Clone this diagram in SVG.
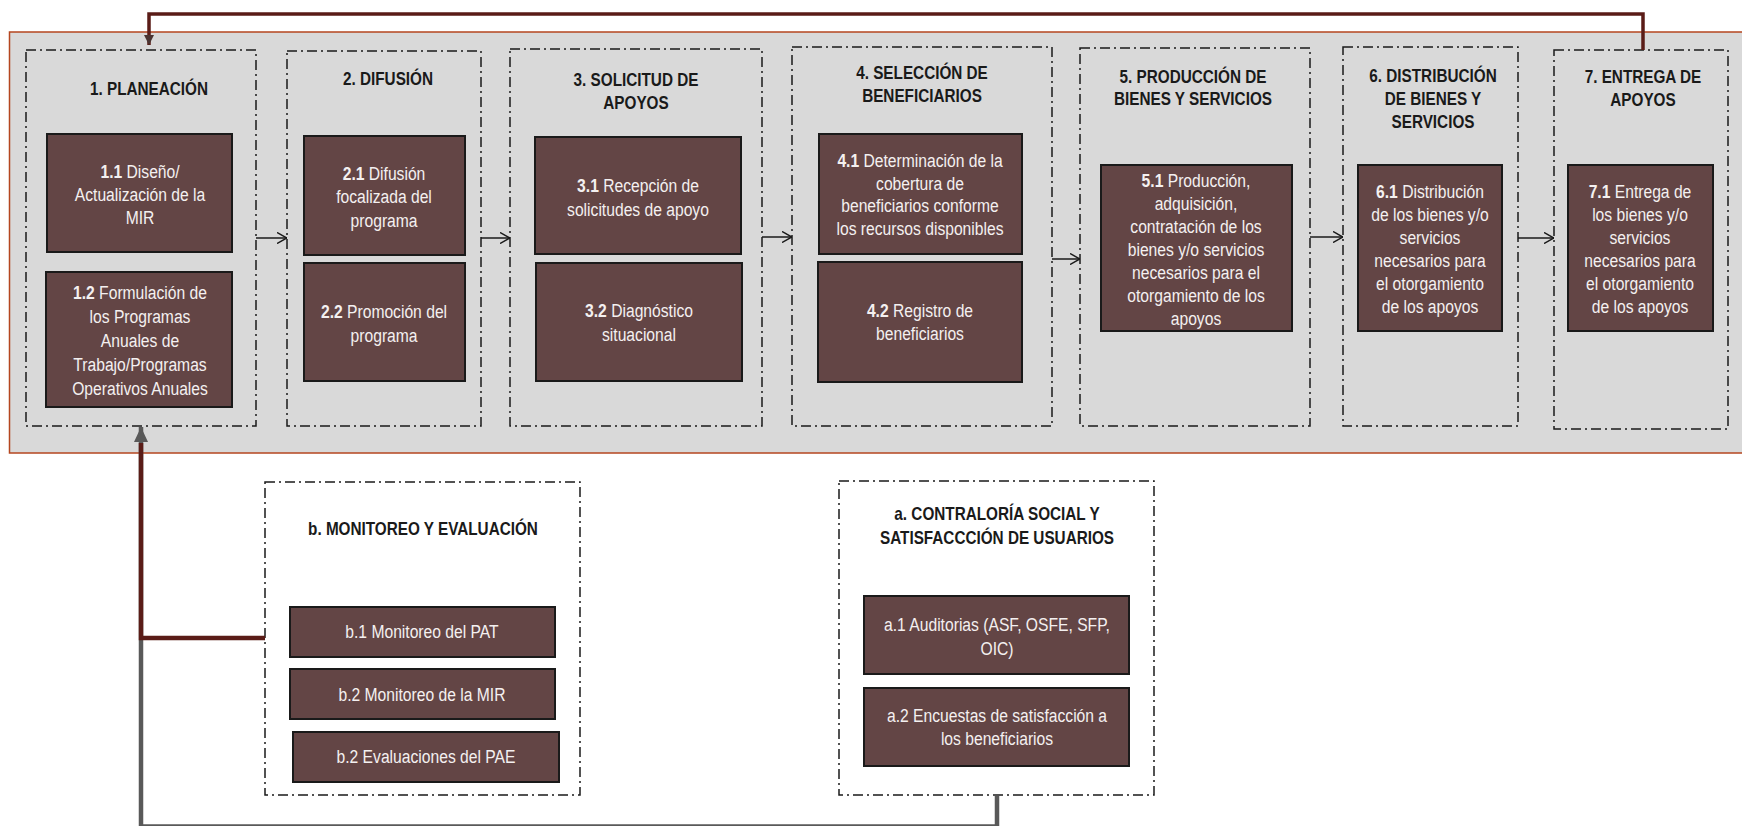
<svg xmlns="http://www.w3.org/2000/svg" width="1742" height="826" viewBox="0 0 1742 826">
<defs>
<style>
text{font-family:"Liberation Sans",Arial,sans-serif;font-size:18px;text-anchor:middle;transform-box:fill-box;transform-origin:center}
.title{font-weight:bold;fill:#1a1a1a;transform:scaleX(0.85)}
.body{fill:#f4f0f0;transform:scaleX(0.87)}
.body tspan.n{font-weight:bold}
.grp{fill:none;stroke:#1a1a1a;stroke-width:1.5;stroke-dasharray:10 4 2 4}
.box{fill:#634545;stroke:#1a1a1a;stroke-width:2}
.flow{stroke:#1a1a1a;stroke-width:1.5;fill:none;marker-end:url(#open)}
</style>
<marker id="open" viewBox="0 0 10 12" refX="10" refY="6" markerWidth="10" markerHeight="12" markerUnits="userSpaceOnUse" orient="auto"><path d="M0,0.5 L10,6 L0,11.5" fill="none" stroke="#1a1a1a" stroke-width="1.5"/></marker>
<marker id="triTop" viewBox="0 0 10 10" refX="10" refY="5" markerWidth="10" markerHeight="10" markerUnits="userSpaceOnUse" orient="auto"><path d="M0,0 L10,5 L0,10 Z" fill="#4a3432"/></marker>
<marker id="triBot" viewBox="0 0 15 14" refX="15" refY="7" markerWidth="15" markerHeight="14" markerUnits="userSpaceOnUse" orient="auto"><path d="M0,0 L15,7 L0,14 Z" fill="#595959"/></marker>
</defs>
<rect x="0" y="0" width="1742" height="826" fill="#ffffff"/>
<rect id="process-area" x="9.5" y="32" width="1745" height="421" fill="#d9d9d9" stroke="#b5461f" stroke-width="1.5"/>

<g id="n1">
<rect class="grp" x="26" y="50" width="230" height="376"/>
<text class="title" x="149" y="95">1. PLANEACIÓN</text>
<rect class="box" x="47" y="134" width="185" height="118"/>
<text class="body" x="140" y="178"><tspan class="n">1.1</tspan> Diseño/</text>
<text class="body" x="140" y="201">Actualización de la</text>
<text class="body" x="140" y="224">MIR</text>
<rect class="box" x="46" y="272" width="186" height="135"/>
<text class="body" x="140" y="299"><tspan class="n">1.2</tspan> Formulación de</text>
<text class="body" x="140" y="323">los Programas</text>
<text class="body" x="140" y="347">Anuales de</text>
<text class="body" x="140" y="371">Trabajo/Programas</text>
<text class="body" x="140" y="395">Operativos Anuales</text>
</g>

<g id="n2">
<rect class="grp" x="287" y="51" width="194" height="375"/>
<text class="title" x="388" y="85">2. DIFUSIÓN</text>
<rect class="box" x="304" y="136" width="161" height="119"/>
<text class="body" x="384" y="180"><tspan class="n">2.1</tspan> Difusión</text>
<text class="body" x="384" y="203">focalizada del</text>
<text class="body" x="384" y="227">programa</text>
<rect class="box" x="304" y="263" width="161" height="118"/>
<text class="body" x="384" y="318"><tspan class="n">2.2</tspan> Promoción del</text>
<text class="body" x="384" y="342">programa</text>
</g>

<g id="n3">
<rect class="grp" x="510" y="49" width="252" height="377"/>
<text class="title" x="636" y="86">3. SOLICITUD DE</text>
<text class="title" x="636" y="109">APOYOS</text>
<rect class="box" x="535" y="137" width="206" height="117"/>
<text class="body" x="638" y="192"><tspan class="n">3.1</tspan> Recepción de</text>
<text class="body" x="638" y="216">solicitudes de apoyo</text>
<rect class="box" x="536" y="263" width="206" height="118"/>
<text class="body" x="639" y="317"><tspan class="n">3.2</tspan> Diagnóstico</text>
<text class="body" x="639" y="341">situacional</text>
</g>

<g id="n4">
<rect class="grp" x="792" y="47" width="260" height="379"/>
<text class="title" x="922" y="79">4. SELECCIÓN DE</text>
<text class="title" x="922" y="102">BENEFICIARIOS</text>
<rect class="box" x="819" y="134" width="203" height="120"/>
<text class="body" x="920" y="167"><tspan class="n">4.1</tspan> Determinación de la</text>
<text class="body" x="920" y="190">cobertura de</text>
<text class="body" x="920" y="212">beneficiarios conforme</text>
<text class="body" x="920" y="235">los recursos disponibles</text>
<rect class="box" x="818" y="262" width="204" height="120"/>
<text class="body" x="920" y="317"><tspan class="n">4.2</tspan> Registro de</text>
<text class="body" x="920" y="340">beneficiarios</text>
</g>

<g id="n5">
<rect class="grp" x="1080" y="48" width="230" height="378"/>
<text class="title" x="1193" y="83">5. PRODUCCIÓN DE</text>
<text class="title" x="1193" y="105">BIENES Y SERVICIOS</text>
<rect class="box" x="1101" y="165" width="191" height="166"/>
<text class="body" x="1196" y="187"><tspan class="n">5.1</tspan> Producción,</text>
<text class="body" x="1196" y="210">adquisición,</text>
<text class="body" x="1196" y="233">contratación de los</text>
<text class="body" x="1196" y="256">bienes y/o servicios</text>
<text class="body" x="1196" y="279">necesarios para el</text>
<text class="body" x="1196" y="302">otorgamiento de los</text>
<text class="body" x="1196" y="325">apoyos</text>
</g>

<g id="n6">
<rect class="grp" x="1343" y="47" width="175" height="379"/>
<text class="title" x="1433" y="82">6. DISTRIBUCIÓN</text>
<text class="title" x="1433" y="105">DE BIENES Y</text>
<text class="title" x="1433" y="128">SERVICIOS</text>
<rect class="box" x="1358" y="165" width="144" height="166"/>
<text class="body" x="1430" y="198"><tspan class="n">6.1</tspan> Distribución</text>
<text class="body" x="1430" y="221">de los bienes y/o</text>
<text class="body" x="1430" y="244">servicios</text>
<text class="body" x="1430" y="267">necesarios para</text>
<text class="body" x="1430" y="290">el otorgamiento</text>
<text class="body" x="1430" y="313">de los apoyos</text>
</g>

<g id="n7">
<rect class="grp" x="1554" y="50" width="174" height="379"/>
<text class="title" x="1643" y="83">7. ENTREGA DE</text>
<text class="title" x="1643" y="106">APOYOS</text>
<rect class="box" x="1568" y="165" width="145" height="166"/>
<text class="body" x="1640" y="198"><tspan class="n">7.1</tspan> Entrega de</text>
<text class="body" x="1640" y="221">los bienes y/o</text>
<text class="body" x="1640" y="244">servicios</text>
<text class="body" x="1640" y="267">necesarios para</text>
<text class="body" x="1640" y="290">el otorgamiento</text>
<text class="body" x="1640" y="313">de los apoyos</text>
</g>

<g id="nb">
<rect class="grp" x="265" y="482" width="315" height="313"/>
<text class="title" x="423" y="535">b. MONITOREO Y EVALUACIÓN</text>
<rect class="box" x="290" y="607" width="265" height="50"/>
<text class="body" x="422" y="638">b.1 Monitoreo del PAT</text>
<rect class="box" x="290" y="669" width="265" height="50"/>
<text class="body" x="422" y="701">b.2 Monitoreo de la MIR</text>
<rect class="box" x="293" y="732" width="266" height="50"/>
<text class="body" x="426" y="763">b.2 Evaluaciones del PAE</text>
</g>

<g id="na">
<rect class="grp" x="839" y="481" width="315" height="314"/>
<text class="title" x="997" y="520">a. CONTRALORÍA SOCIAL Y</text>
<text class="title" x="997" y="544">SATISFACCCIÓN DE USUARIOS</text>
<rect class="box" x="864" y="596" width="265" height="78"/>
<text class="body" x="997" y="631">a.1 Auditorias (ASF, OSFE, SFP,</text>
<text class="body" x="997" y="655">OIC)</text>
<rect class="box" x="864" y="688" width="265" height="78"/>
<text class="body" x="997" y="722">a.2 Encuestas de satisfacción a</text>
<text class="body" x="997" y="745">los beneficiarios</text>
</g>

<g id="connectors">
<path class="flow" d="M256,238 H287"/>
<path class="flow" d="M481,238 H510"/>
<path class="flow" d="M762,237 H792"/>
<path class="flow" d="M1052,259 H1080"/>
<path class="flow" d="M1310,237 H1343"/>
<path class="flow" d="M1518,238 H1554"/>
<path d="M1643,50 V14 H149 V45" fill="none" stroke="#5a1c17" stroke-width="3.5" marker-end="url(#triTop)"/>
<path d="M997,796 V826.5 H141 V427" fill="none" stroke="#595959" stroke-width="4.5" marker-end="url(#triBot)"/>
<path d="M265,638 H141 V443" fill="none" stroke="#5a1c17" stroke-width="4.5"/>
</g>
</svg>
